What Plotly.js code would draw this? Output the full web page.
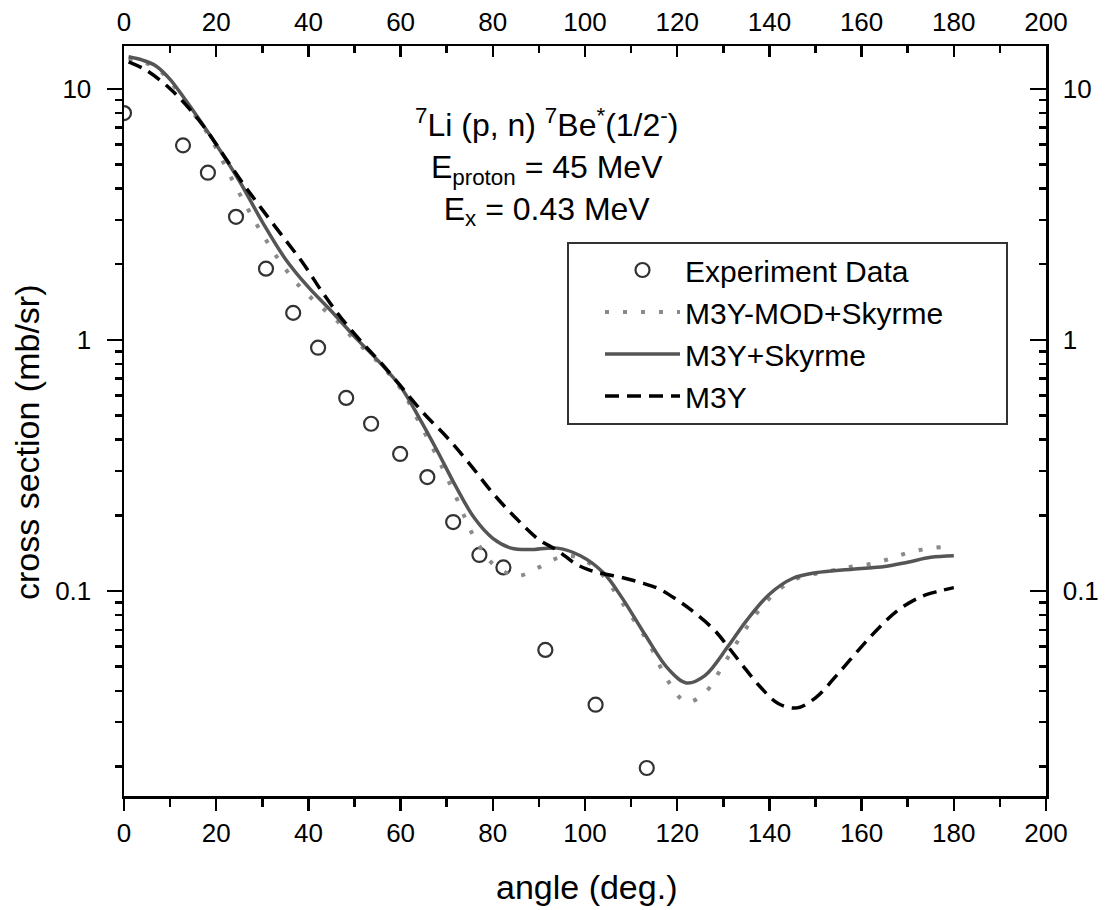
<!DOCTYPE html>
<html>
<head>
<meta charset="utf-8">
<script src="https://cdn.plot.ly/plotly-3.0.1.min.js"></script>
<style>html,body{margin:0;padding:0;background:#fff;}#chart{width:1118px;height:910px;}</style>
</head>
<body>
<div id="chart"></div>
<script>
// Experimental data
var expAngle = [0, 12.8, 18.2, 24.3, 30.8, 36.7, 42.1, 48.2, 53.6, 59.9, 65.8, 71.4, 77.1, 82.3, 91.4, 102.3, 113.4];
var expXS    = [8.0, 5.95, 4.63, 3.09, 1.92, 1.28, 0.93, 0.587, 0.463, 0.351, 0.284, 0.188, 0.139, 0.124, 0.0582, 0.0352, 0.0197];

// M3Y-MOD+Skyrme (dotted)
var modAngle = [1, 4, 7, 10, 13, 16, 18, 20, 22, 26, 30, 34, 38, 42, 46, 50, 55, 60, 64, 68, 70, 72, 74, 76, 80, 84, 86, 90, 94, 98, 103, 108, 114, 118, 122, 126, 130, 134, 138, 142, 146, 150, 154, 158, 162, 166, 170, 174, 178, 180];
var modXS    = [13.2, 12.8, 12.1, 10.7, 9.0, 7.55, 6.7, 5.8, 4.9, 3.55, 2.64, 2.03, 1.64, 1.39, 1.2, 1.0, 0.82, 0.64, 0.47, 0.34, 0.284, 0.237, 0.195, 0.163, 0.128, 0.116, 0.115, 0.124, 0.135, 0.137, 0.12, 0.09, 0.061, 0.0438, 0.0361, 0.0393, 0.0507, 0.0668, 0.0847, 0.101, 0.112, 0.117, 0.121, 0.125, 0.128, 0.134, 0.1416, 0.147, 0.1496, 0.150];

// M3Y+Skyrme (solid)
var skyAngle = [1, 4, 7, 10, 13, 16, 20, 25, 30, 35, 40, 45, 50, 55, 60, 64, 68, 72, 76, 80, 84, 88, 94, 99, 104, 108, 113, 118, 122, 126, 131, 135, 140, 145, 150, 158, 165, 170, 175, 180];
var skyXS    = [13.4, 13.0, 12.3, 10.9, 9.2, 7.7, 6.0, 4.3, 2.95, 2.1, 1.62, 1.3, 1.03, 0.83, 0.65, 0.49, 0.36, 0.26, 0.195, 0.162, 0.148, 0.146, 0.148, 0.138, 0.118, 0.094, 0.067, 0.049, 0.043, 0.046, 0.060, 0.076, 0.097, 0.112, 0.118, 0.122, 0.125, 0.130, 0.136, 0.138];

// M3Y (dashed)
var m3yAngle = [1, 5, 10, 14, 18, 22, 26, 30, 35, 39, 43, 47, 52, 56, 60, 65, 70, 75, 80, 85, 90, 94, 98, 101, 104, 108, 112, 116, 120, 123, 128, 131, 134, 138, 142, 146, 150, 155, 160, 164, 168, 173, 177, 180];
var m3yXS    = [12.8, 11.8, 10.0, 8.4, 6.8, 5.3, 4.15, 3.3, 2.5, 2.0, 1.55, 1.23, 0.96, 0.80, 0.655, 0.51, 0.41, 0.32, 0.245, 0.195, 0.16, 0.145, 0.128, 0.121, 0.117, 0.113, 0.108, 0.102, 0.092, 0.084, 0.070, 0.060, 0.051, 0.0415, 0.0355, 0.0342, 0.0375, 0.047, 0.060, 0.072, 0.084, 0.095, 0.100, 0.103];

// Tick labels
var xTickVals = [0, 20, 40, 60, 80, 100, 120, 140, 160, 180, 200];
var xTickText = ['0', '20', '40', '60', '80', '100', '120', '140', '160', '180', '200'];
var xMinorVals = [10, 30, 50, 70, 90, 110, 130, 150, 170, 190];
var yTickVals = [0.1, 1, 10];
var yTickText = ['0.1', '1', '10'];
var yMinorVals = [0.02, 0.03, 0.04, 0.05, 0.06, 0.07, 0.08, 0.09, 0.2, 0.3, 0.4, 0.5, 0.6, 0.7, 0.8, 0.9, 2, 3, 4, 5, 6, 7, 8, 9];

var FONT = 'Liberation Sans, Arial, Helvetica, sans-serif';
var yRange = [Math.log10(0.01524), Math.log10(14.8)];

var traces = [
  {x: expAngle, y: expXS, name: 'Experiment Data', type: 'scatter', mode: 'markers',
   marker: {symbol: 'circle-open', size: 14, color: '#333', line: {width: 2.2, color: '#333'}}},
  {x: modAngle, y: modXS, name: 'M3Y-MOD+Skyrme', type: 'scatter', mode: 'lines',
   line: {color: '#8a8a8a', width: 4, dash: '4px,14px', shape: 'spline'}},
  {x: skyAngle, y: skyXS, name: 'M3Y+Skyrme', type: 'scatter', mode: 'lines',
   line: {color: '#555555', width: 3.5, shape: 'spline'}},
  {x: m3yAngle, y: m3yXS, name: 'M3Y', type: 'scatter', mode: 'lines',
   line: {color: '#000', width: 3.5, dash: '14px,8px', shape: 'spline'}},
  {x: [], y: [], xaxis: 'x2', yaxis: 'y2', showlegend: false, type: 'scatter', mode: 'markers'}
];

var tickFont = {family: FONT, size: 26, color: '#000'};

var layout = {
  width: 1118, height: 910,
  margin: {l: 124, r: 72, t: 46, b: 114},
  paper_bgcolor: '#fff', plot_bgcolor: '#fff',
  font: {family: FONT, color: '#000'},
  showlegend: true,
  xaxis: {
    range: [0, 200], showgrid: false, zeroline: false,
    showline: true, linecolor: '#000', linewidth: 2.5,
    tickmode: 'array', tickvals: xTickVals, ticktext: xTickText,
    ticks: 'outside', ticklen: 12, tickwidth: 2.5, tickcolor: '#000',
    ticklabelstandoff: 0,
    minor: {tickmode: 'array', tickvals: xMinorVals, ticks: 'outside', ticklen: 8, tickwidth: 2.5, tickcolor: '#000', showgrid: false},
    tickfont: tickFont
  },
  xaxis2: {
    range: [0, 200], overlaying: 'x', side: 'top', anchor: 'y',
    showgrid: false, zeroline: false,
    showline: true, linecolor: '#000', linewidth: 2.5,
    tickmode: 'array', tickvals: xTickVals, ticktext: xTickText,
    ticks: 'inside', ticklen: 11, tickwidth: 2.5, tickcolor: '#000',
    ticklabelstandoff: 2,
    minor: {tickmode: 'array', tickvals: xMinorVals, ticks: 'inside', ticklen: 7, tickwidth: 2.5, tickcolor: '#000', showgrid: false},
    tickfont: tickFont
  },
  yaxis: {
    type: 'log', range: yRange, showgrid: false, zeroline: false,
    showline: true, linecolor: '#000', linewidth: 2.5,
    tickmode: 'array', tickvals: yTickVals, ticktext: yTickText,
    ticks: 'outside', ticklen: 15, tickwidth: 2.5, tickcolor: '#000',
    ticklabelstandoff: 10,
    minor: {tickmode: 'array', tickvals: yMinorVals, ticks: 'outside', ticklen: 7, tickwidth: 2.5, tickcolor: '#000', showgrid: false},
    tickfont: tickFont
  },
  yaxis2: {
    type: 'log', range: yRange, overlaying: 'y', side: 'right', anchor: 'x',
    showgrid: false, zeroline: false,
    showline: true, linecolor: '#000', linewidth: 2.5,
    tickmode: 'array', tickvals: yTickVals, ticktext: yTickText,
    ticks: 'inside', ticklen: 16, tickwidth: 2.5, tickcolor: '#000',
    ticklabelstandoff: 9,
    minor: {tickmode: 'array', tickvals: yMinorVals, ticks: 'inside', ticklen: 7, tickwidth: 2.5, tickcolor: '#000', showgrid: false},
    tickfont: tickFont
  },
  legend: {
    x: (600 - 124) / 922, xanchor: 'left',
    y: (796 - 244) / 750, yanchor: 'top',
    bgcolor: 'rgba(0,0,0,0)', borderwidth: 0,
    itemwidth: 75,
    font: {family: FONT, size: 30, color: '#000'},
    tracegroupgap: 0
  },
  shapes: [
    {type: 'rect', xref: 'paper', yref: 'paper',
     x0: (568 - 124) / 922, x1: (1007 - 124) / 922,
     y0: (796 - 424) / 750, y1: (796 - 243) / 750,
     line: {color: '#333', width: 2}, fillcolor: 'rgba(0,0,0,0)', layer: 'above'}
  ],
  annotations: [
    {xref: 'paper', yref: 'paper', x: (546 - 124) / 922, y: (796 - 101) / 750,
     xanchor: 'center', yanchor: 'top', showarrow: false, align: 'center',
     font: {family: FONT, size: 32, color: '#000'},
     text: '<sup>7</sup>Li (p, n) <sup>7</sup>Be<sup>*</sup>(1/2<sup>-</sup>)<br>E<sub>proton</sub> = 45 MeV<br>E<sub>x</sub> = 0.43 MeV'},
    {xref: 'paper', yref: 'paper', x: (586 - 124) / 922, y: (796 - 887) / 750,
     xanchor: 'center', yanchor: 'middle', showarrow: false,
     font: {family: FONT, size: 34, color: '#000'}, text: 'angle (deg.)'},
    {xref: 'paper', yref: 'paper', x: (27 - 124) / 922, y: (796 - 442) / 750,
     xanchor: 'center', yanchor: 'middle', showarrow: false, textangle: -90,
     font: {family: FONT, size: 34, color: '#000'}, text: 'cross section (mb/sr)'}
  ]
};

Plotly.newPlot('chart', traces, layout, {displayModeBar: false, staticPlot: true});
</script>
</body>
</html>
